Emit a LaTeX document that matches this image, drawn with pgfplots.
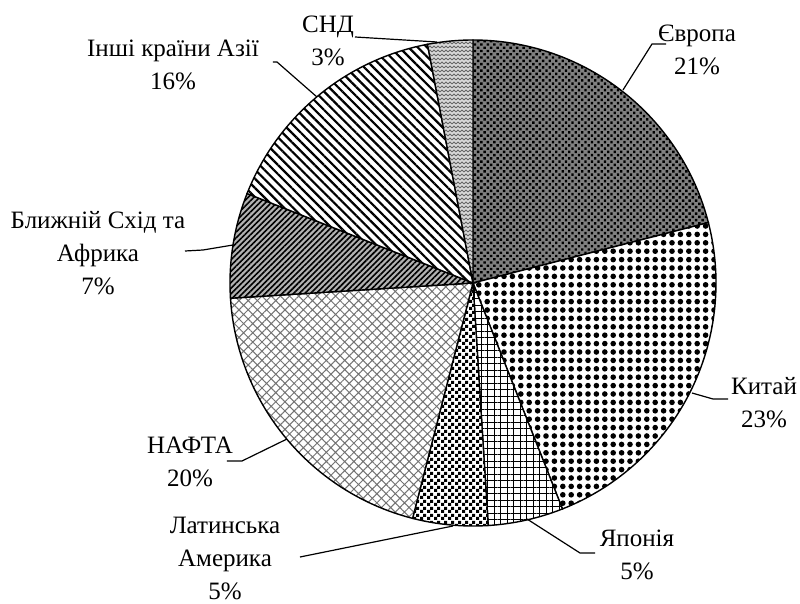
\documentclass[border=0pt]{standalone}
\usepackage{pgfplots}
\pgfplotsset{compat=1.18}
\usepackage{fontspec}
\setmainfont{Liberation Serif}
\usetikzlibrary{patterns,patterns.meta}

\tikzdeclarepattern{name=mychecker, type=uncolored,
  bottom left={(0,0)}, top right={(7bp,7bp)}, tile size={(7bp,7bp)},
  code={\fill (0,0) rectangle (3.5bp,3.5bp); \fill (3.5bp,3.5bp) rectangle (7bp,7bp);}}
\tikzdeclarepattern{name=zigzag, type=uncolored,
  bottom left={(-0.5bp,-0.5bp)}, top right={(4.5bp,4.5bp)}, tile size={(4bp,4bp)},
  code={\draw[line width=0.9bp] (0,0) -- (2bp,2bp) -- (4bp,0);}}

% slice: start percentage, end percentage (cumulative), base fill, pattern
\newcommand\slice[4]{%
  \addplot[mark=none, draw=none, #3, forget plot,
    domain={90-3.6*#1}:{90-3.6*#2}, samples=90, variable=\t]
    ({243*cos(\t)},{243*sin(\t)}) -- (0,0) -- cycle;
  \addplot[mark=none, #4, draw=black, line width=1.4bp,
    domain={90-3.6*#1}:{90-3.6*#2}, samples=90, variable=\t]
    ({243*cos(\t)},{243*sin(\t)}) -- (0,0) -- cycle;}

\begin{document}
\begin{tikzpicture}
\begin{axis}[hide axis, scale only axis, width=486bp, height=486bp,
  xmin=-243, xmax=243, ymin=-243, ymax=243, clip=false]
\path (-473,283) rectangle (327,-321);
% shares (%): Europe 21, China 23, Japan 5, Latin America 5, NAFTA 20, Middle East & Africa 7, Other Asia 16, CIS 3
\slice{0}{21}{fill=black!50}{pattern={Dots[distance=4.6bp,radius=1.7bp,angle=45]}, pattern color=black}
\slice{21}{44}{fill=white}{pattern={Dots[distance=8.4bp,radius=2.8bp]}, pattern color=black}
\slice{44}{49}{fill=white}{pattern={Hatch[angle=0,distance=6.5bp,line width=0.7bp]}, pattern color=black}
\slice{49}{54}{fill=white}{pattern=mychecker, pattern color=black}
\slice{54}{74}{fill=white}{pattern={Hatch[angle=45,distance=6.5bp,line width=1bp]}, pattern color=black!55}
\slice{74}{81}{fill=black!30}{pattern={Lines[angle=45,distance=4bp,line width=1.6bp]}, pattern color=black}
\slice{81}{97}{fill=white}{pattern={Lines[angle=-45,distance=6.5bp,line width=2.2bp]}, pattern color=black}
\slice{97}{100}{fill=black!15}{pattern=zigzag, pattern color=black!60}

\tikzset{lbl/.style={align=center, inner sep=0pt, font=\fontsize{25bp}{33bp}\selectfont},
  ldr/.style={line width=1.2bp}}
\node[lbl] at (224,233) {Європа\\21\%};
\draw[ldr] (193,239) -- (179,239) -- (150,193);
\node[lbl] at (291,-120) {Китай\\23\%};
\draw[ldr] (255,-116) -- (240,-116) -- (219,-110);
\node[lbl] at (164,-272) {Японія\\5\%};
\draw[ldr] (122,-270) -- (107,-270) -- (54,-236);
\node[lbl] at (-248,-275) {Латинська\\Америка\\5\%};
\draw[ldr] (-173,-274) -- (-20,-243);
\node[lbl] at (-283,-179) {НАФТА\\20\%};
\draw[ldr] (-246,-178) -- (-231,-178) -- (-186,-156);
\node[lbl] at (-375,30) {Ближній Схід та\\Африка\\7\%};
\draw[ldr] (-288,32) -- (-270,33) -- (-240,38);
\node[lbl] at (-300,218) {Інші країни Азії\\16\%};
\draw[ldr] (-200,221) -- (-196,221) -- (-156,186);
\node[lbl] at (-145,242) {СНД\\3\%};
\draw[ldr] (-118,246) -- (-36,241);
\end{axis}
\end{tikzpicture}
\end{document}
